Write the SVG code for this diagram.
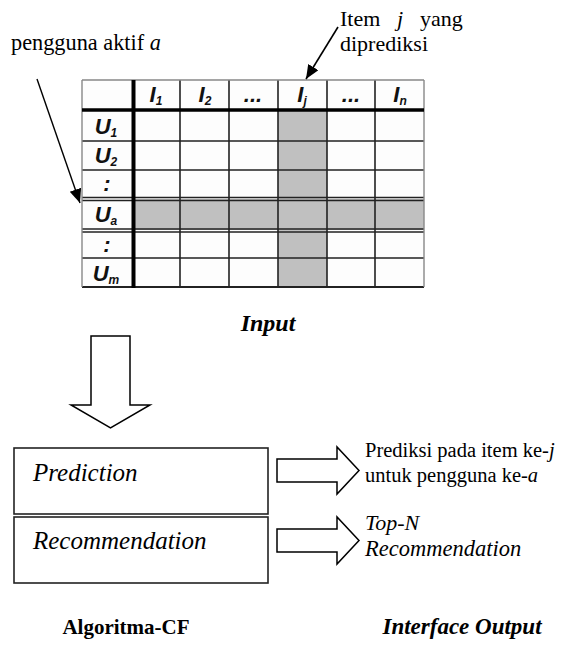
<svg xmlns="http://www.w3.org/2000/svg" width="583" height="646" viewBox="0 0 583 646">
<style>
.t{font-family:"Liberation Serif","Times New Roman",serif;fill:#000}
.it{font-style:italic}
.b{font-weight:bold}
.h{font-family:"Liberation Sans",Arial,sans-serif;font-weight:bold;font-style:italic;font-size:22px;fill:#111}
.sub{font-size:12px}
.g{stroke:#222;stroke-width:1.6;fill:none}
.box{fill:#fff;stroke:#222;stroke-width:1.6}
.hollow{fill:#fff;stroke:#000;stroke-width:1.5;stroke-linejoin:miter}
.cw{fill:#fdfdfd}
.cg{fill:#c0c0c0}
</style>
<defs>
<marker id="ah" markerUnits="userSpaceOnUse" markerWidth="16" markerHeight="14" refX="14" refY="6" orient="auto">
<path d="M0,0 L14,6 L0,12 Z" fill="#000"/>
</marker>
</defs>
<rect width="583" height="646" fill="#fff"/>

<g id="label-pengguna">
<text class="t" x="11" y="50" font-size="22.3">pengguna aktif <tspan class="it">a</tspan></text>
</g>
<g id="label-item">
<text class="t" x="340" y="26" font-size="22">Item</text>
<text class="t it" x="397" y="26" font-size="22">j</text>
<text class="t" x="420" y="26" font-size="22">yang</text>
<text class="t" x="340" y="51" font-size="22">diprediksi</text>
</g>

<g id="matrix">
<rect x="82" y="80" width="342" height="207" class="cw"/>
<rect x="278" y="110" width="49" height="177" class="cg"/>
<rect x="133" y="199" width="291" height="31" class="cg"/>
<g class="g">
<path d="M180,80V287M229,80V287M278,80V287M327,80V287M375,80V287"/>
<path d="M82,141H424M82,170H424M82,258H424"/>
<path d="M82,197.5H424M82,200.5H424M82,229H424M82,232H424" stroke-width="1.4"/>
<path d="M82,287H424" stroke-width="2"/>
</g>
<path d="M82,80H424M82,80V287M424,80V287" stroke="#888" stroke-width="1.4" fill="none"/>
<path d="M133.5,80V288" stroke="#000" stroke-width="4"/>
<path d="M82,110H424" stroke="#000" stroke-width="3.5"/>
<g class="h" text-anchor="middle">
<text x="156" y="102">I<tspan class="sub" dy="3">1</tspan></text>
<text x="205" y="102">I<tspan class="sub" dy="3">2</tspan></text>
<text x="253" y="102">...</text>
<text x="302" y="102">I<tspan class="sub" dy="3">j</tspan></text>
<text x="351" y="102">...</text>
<text x="400" y="102">I<tspan class="sub" dy="3">n</tspan></text>
<text x="106" y="134">U<tspan class="sub" dy="3">1</tspan></text>
<text x="106" y="163">U<tspan class="sub" dy="3">2</tspan></text>
<text x="107" y="191">:</text>
<text x="106" y="222">U<tspan class="sub" dy="3">a</tspan></text>
<text x="107" y="252">:</text>
<text x="106" y="281">U<tspan class="sub" dy="3">m</tspan></text>
</g>
</g>

<g id="label-input">
<text class="t it b" x="268" y="331" font-size="24" text-anchor="middle">Input</text>
</g>

<g id="box-prediction">
<rect x="14" y="448" width="254" height="66" class="box"/>
<text class="t it" x="33" y="481" font-size="25">Prediction</text>
</g>
<g id="box-recommendation">
<rect x="14" y="517" width="254" height="66" class="box"/>
<text class="t it" x="33" y="549" font-size="25">Recommendation</text>
</g>

<g id="out-prediction">
<text class="t" x="365" y="457" font-size="20.5">Prediksi pada item ke-<tspan class="it">j</tspan></text>
<text class="t" x="365" y="482" font-size="20.5">untuk pengguna ke-<tspan class="it">a</tspan></text>
</g>
<g id="out-recommendation">
<text class="t it" x="365" y="530" font-size="22">Top-N</text>
<text class="t it" x="365" y="556" font-size="22.5">Recommendation</text>
</g>

<g id="label-algoritma">
<text class="t b" x="126" y="634" font-size="21" text-anchor="middle">Algoritma-CF</text>
</g>
<g id="label-interface">
<text class="t b it" x="462" y="634" font-size="23" text-anchor="middle">Interface Output</text>
</g>

<g id="connectors">
<line x1="37" y1="79" x2="80" y2="203" stroke="#000" stroke-width="1.4" marker-end="url(#ah)"/>
<line x1="338" y1="27" x2="306" y2="79" stroke="#000" stroke-width="1.6" marker-end="url(#ah)"/>
<path class="hollow" d="M91,336H130V405H150L110.5,428L71,405H91Z"/>
<path class="hollow" d="M277,459H337V447L359,470.5L337,494V482H277Z"/>
<path class="hollow" d="M277,529H337V517L359,540.5L337,564V552H277Z"/>
</g>
</svg>
